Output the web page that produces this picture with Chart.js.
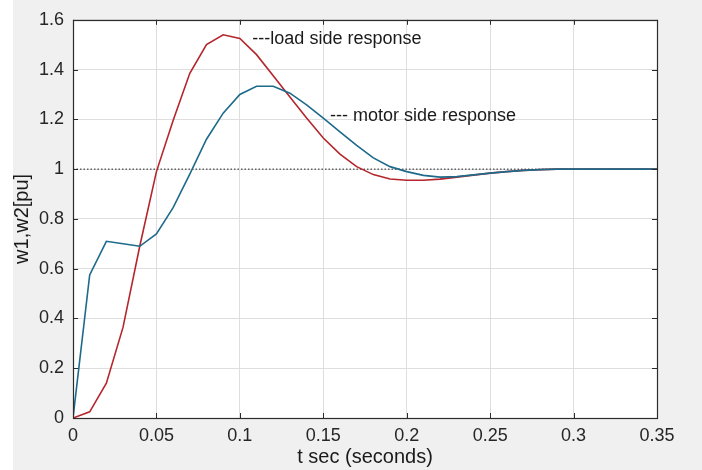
<!DOCTYPE html>
<html>
<head>
<meta charset="utf-8">
<script src="https://cdn.jsdelivr.net/npm/chart.js@4.4.1/dist/chart.umd.min.js"></script>
<style>
  html, body { margin: 0; padding: 0; background: #ffffff; }
  #wrap { width: 702px; height: 470px; position: relative; }
</style>
</head>
<body>
<div id="wrap"><canvas id="mycanvas" width="702" height="470"></canvas></div>
<script>
// time samples (s)
var tSec = [0, 0.01, 0.02, 0.03, 0.04, 0.05, 0.06, 0.07, 0.08, 0.09,
            0.10, 0.11, 0.12, 0.13, 0.14, 0.15, 0.16, 0.17, 0.18, 0.19,
            0.20, 0.21, 0.22, 0.23, 0.24, 0.25, 0.26, 0.27, 0.28, 0.29,
            0.30, 0.31, 0.32, 0.33, 0.34, 0.35];

// motor side speed w1 [pu]
var motorSide = [0, 0.575, 0.71, 0.70, 0.69, 0.74, 0.845, 0.98, 1.12, 1.225,
                 1.30, 1.333, 1.333, 1.305, 1.258, 1.205, 1.15, 1.095, 1.045, 1.01,
                 0.99, 0.975, 0.968, 0.97, 0.977, 0.984, 0.99, 0.995, 0.998, 1.0,
                 1.0, 1.0, 1.0, 1.0, 1.0, 1.0];

// load side speed w2 [pu]
var loadSide = [0, 0.025, 0.14, 0.365, 0.69, 0.99, 1.195, 1.385, 1.50, 1.54,
                1.525, 1.46, 1.375, 1.29, 1.205, 1.125, 1.06, 1.01, 0.978, 0.96,
                0.955, 0.955, 0.96, 0.968, 0.976, 0.984, 0.99, 0.995, 0.998, 1.0,
                1.0, 1.0, 1.0, 1.0, 1.0, 1.0];

// reference level
var refT = [0, 0.35];
var refLevel = [1, 1];

var xTickLabels = ['0', '0.05', '0.1', '0.15', '0.2', '0.25', '0.3', '0.35'];
var yTickLabels = ['0', '0.2', '0.4', '0.6', '0.8', '1', '1.2', '1.4', '1.6'];

var notes = [
    { text: '---load side response', x: 0.1075, y: 1.522 },
    { text: '--- motor side response', x: 0.154, y: 1.213 }
];

function toPoints(xs, ys) {
    var pts = [];
    for (var i = 0; i < xs.length; i++) {
        pts.push({ x: xs[i], y: ys[i] });
    }
    return pts;
}

var fontFam = "'Liberation Sans', Arial, Helvetica, sans-serif";

// gray figure background, white axes
var bgPlugin = {
    id: 'bg',
    beforeDraw: function(chart) {
        var c = chart.ctx, a = chart.chartArea;
        c.save();
        c.fillStyle = '#ffffff';
        c.fillRect(0, 0, chart.width, chart.height);
        c.fillStyle = '#f0f0f0';
        c.fillRect(13, 0, chart.width - 13, chart.height);
        c.fillStyle = '#ffffff';
        c.fillRect(a.left, a.top, a.right - a.left, a.bottom - a.top);
        c.restore();
    }
};

// box, inward tick marks and text notes
var framePlugin = {
    id: 'frame',
    afterDraw: function(chart) {
        var c = chart.ctx, a = chart.chartArea;
        var xs = chart.scales.x, ys = chart.scales.y;
        c.save();
        c.strokeStyle = '#2b2b2b';
        c.lineWidth = 1;
        c.beginPath();
        xs.ticks.forEach(function(t) {
            var px = Math.round(xs.getPixelForValue(t.value)) + 0.5;
            c.moveTo(px, a.bottom); c.lineTo(px, a.bottom - 5);
            c.moveTo(px, a.top); c.lineTo(px, a.top + 5);
        });
        ys.ticks.forEach(function(t) {
            var py = Math.round(ys.getPixelForValue(t.value)) + 0.5;
            c.moveTo(a.left, py); c.lineTo(a.left + 5, py);
            c.moveTo(a.right, py); c.lineTo(a.right - 5, py);
        });
        c.stroke();
        c.lineWidth = 1.2;
        c.strokeRect(Math.round(a.left) + 0.5, Math.round(a.top) + 0.5,
                     Math.round(a.right - a.left), Math.round(a.bottom - a.top));

        c.fillStyle = '#1a1a1a';
        c.font = '18px ' + fontFam;
        c.textBaseline = 'middle';
        c.textAlign = 'left';
        notes.forEach(function(n) {
            c.fillText(n.text, xs.getPixelForValue(n.x), ys.getPixelForValue(n.y));
        });
        c.restore();
    }
};

var ctx = document.getElementById('mycanvas').getContext('2d');
var myChart = new Chart(ctx, {
    type: 'line',
    data: {
        datasets: [{
            label: 'motor side response',
            data: toPoints(tSec, motorSide),
            borderColor: '#1d6a8a',
            borderWidth: 1.6,
            pointRadius: 0,
            tension: 0,
            fill: false
        }, {
            label: 'load side response',
            data: toPoints(tSec, loadSide),
            borderColor: '#b4262b',
            borderWidth: 1.6,
            pointRadius: 0,
            tension: 0,
            fill: false
        }, {
            label: 'reference',
            data: toPoints(refT, refLevel),
            borderColor: '#222222',
            borderWidth: 1,
            borderDash: [1.5, 2],
            pointRadius: 0,
            fill: false
        }]
    },
    plugins: [bgPlugin, framePlugin],
    options: {
        responsive: false,
        animation: false,
        events: [],
        layout: { padding: { top: 13, right: 45, left: 0, bottom: 0 } },
        plugins: {
            legend: { display: false },
            tooltip: { enabled: false },
            title: { display: false }
        },
        scales: {
            x: {
                type: 'linear',
                min: 0,
                max: 0.35,
                afterFit: function(scale) { scale.height = 52; },
                ticks: {
                    stepSize: 0.05,
                    padding: 7,
                    color: '#262626',
                    font: { family: fontFam, size: 18 },
                    maxRotation: 0,
                    callback: function(v, i) { return xTickLabels[i]; }
                },
                grid: { color: '#dedede', lineWidth: 1, drawTicks: false },
                border: { display: false },
                title: {
                    display: true,
                    text: 't sec (seconds)',
                    color: '#1a1a1a',
                    font: { family: fontFam, size: 20 },
                    padding: { top: 0, bottom: 1 }
                }
            },
            y: {
                min: 0,
                max: 1.6,
                afterFit: function(scale) { scale.width = 73; },
                ticks: {
                    stepSize: 0.2,
                    padding: 9,
                    color: '#262626',
                    font: { family: fontFam, size: 18 },
                    callback: function(v, i) { return yTickLabels[i]; }
                },
                grid: { color: '#dedede', lineWidth: 1, drawTicks: false },
                border: { display: false },
                title: {
                    display: true,
                    text: 'w1,w2[pu]',
                    color: '#1a1a1a',
                    font: { family: fontFam, size: 20 },
                    padding: { top: 10, bottom: 0 }
                }
            }
        }
    }
});
</script>
</body>
</html>
